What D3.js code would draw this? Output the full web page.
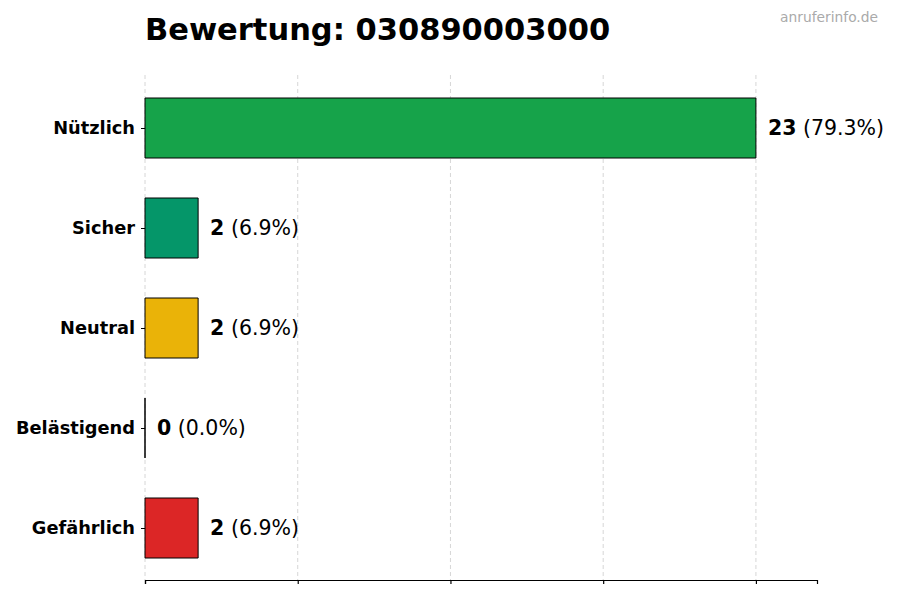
<!DOCTYPE html>
<meta charset="utf-8">
<html>
<body style="margin:0;background:#fff">
<div id="chart"></div>
<script src="https://cdn.jsdelivr.net/npm/d3@7"></script>
<script>
var categories = ["Nützlich", "Sicher", "Neutral", "Belästigend", "Gefährlich"];
var counts = [23, 2, 2, 0, 2];
var percents = ["79.3%", "6.9%", "6.9%", "0.0%", "6.9%"];
var colors = ["#16a34a", "#059669", "#eab308", "#ea580c", "#dc2626"];
var title = "Bewertung: 030890003000";

var width = 900, height = 600;
var plotLeft = 145, plotRight = 817, plotTop = 75, plotBottom = 580;
var maxVal = d3.max(counts);

var svg = d3.select("#chart").append("svg")
    .attr("width", width).attr("height", height)
    .style("font-family", "DejaVu Sans, sans-serif");

var x = d3.scaleLinear().domain([0, maxVal * 1.1]).range([plotLeft, plotRight]);
var y = d3.scaleLinear().domain([-0.53, categories.length - 0.48]).range([plotTop, plotBottom]);
var barH = 0.6 * (y(1) - y(0));

// grid
var ticks = d3.range(5).map(function (i) { return maxVal * i / 4; });
svg.selectAll("line.grid").data(ticks).enter().append("line")
    .attr("class", "grid")
    .attr("x1", function (d) { return x(d); }).attr("x2", function (d) { return x(d); })
    .attr("y1", plotTop).attr("y2", plotBottom)
    .attr("stroke", "#cccccc").attr("stroke-width", 0.8)
    .attr("stroke-dasharray", "4,3");

// bars (path so a zero-width bar still shows its edge)
svg.selectAll("path.bar").data(counts).enter().append("path")
    .attr("class", "bar")
    .attr("d", function (d, i) {
        var x0 = x(0), x1 = x(d), y0 = y(i) - barH / 2, y1 = y(i) + barH / 2;
        return "M" + x0 + "," + y0 + "H" + x1 + "V" + y1 + "H" + x0 + "Z";
    })
    .attr("fill", function (d, i) { return colors[i]; })
    .attr("stroke", "#000").attr("stroke-width", 1);

// value labels
var lab = svg.selectAll("text.val").data(counts).enter().append("text")
    .attr("class", "val")
    .attr("x", function (d) { return x(d) + 12; })
    .attr("y", function (d, i) { return y(i); })
    .attr("dy", "0.35em")
    .style("font-size", "20.5px");
lab.append("tspan").style("font-weight", "bold").text(function (d) { return d; });
lab.append("tspan").text(function (d, i) { return " (" + percents[i] + ")"; });

// x axis
var xAxis = d3.axisBottom(x).tickValues(ticks).tickFormat("").tickSizeOuter(0).tickSize(4);
svg.append("g").attr("transform", "translate(0," + plotBottom + ")").call(xAxis)
    .call(function (g) {
        g.select(".domain").attr("stroke", "#000").attr("stroke-width", 1.2);
        g.selectAll(".tick line").attr("stroke", "#000").attr("stroke-width", 1.2);
    });

// y axis labels + small ticks
var yAxis = d3.axisLeft(y).tickValues(d3.range(categories.length))
    .tickFormat(function (i) { return categories[i]; }).tickSize(4).tickPadding(6);
svg.append("g").attr("transform", "translate(" + plotLeft + ",0)").call(yAxis)
    .call(function (g) {
        g.select(".domain").remove();
        g.selectAll(".tick line").attr("stroke", "#000");
        g.selectAll(".tick text").attr("fill", "#000")
            .style("font-size", "17.8px").style("font-weight", "bold")
            .style("font-family", "DejaVu Sans, sans-serif");
    });

svg.append("text").attr("x", plotLeft).attr("y", 40)
    .style("font-size", "30.5px").style("font-weight", "bold").text(title);

svg.append("text").attr("x", 878).attr("y", 22).attr("text-anchor", "end")
    .style("font-size", "13.8px").attr("fill", "#aaaaaa").text("anruferinfo.de");
</script>
</body>
</html>
